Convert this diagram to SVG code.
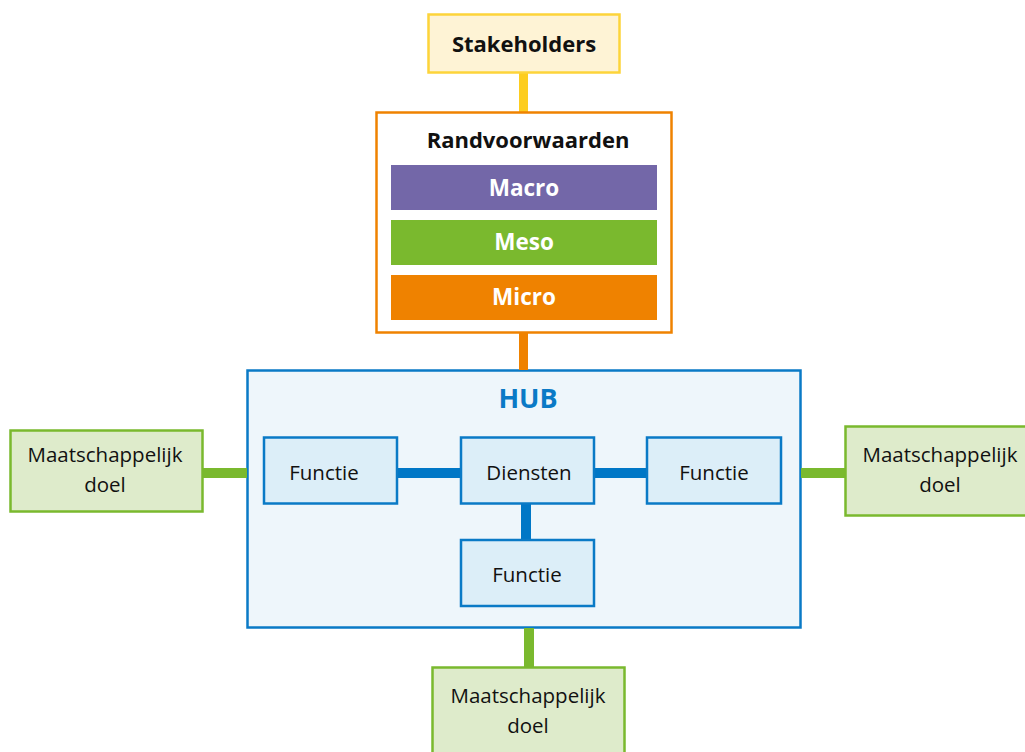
<svg xmlns="http://www.w3.org/2000/svg" width="1025" height="752" viewBox="0 0 1025 752">
<style>
text{font-family:"Open Sans","Noto Sans","Liberation Sans",sans-serif;text-anchor:middle;fill:#111}
.b{font-weight:bold}
.w{fill:#fff;font-weight:bold;font-size:22.5px}
.goal{fill:#deebcb;stroke:#7ab92e;stroke-width:2.5}
.fn{fill:#dceef8;stroke:#0a7ac6;stroke-width:2.5}
.t{font-size:20.5px}
</style>
<rect width="1025" height="752" fill="#fff"/>
<g id="hub">
<rect x="247.5" y="370.5" width="553" height="257" fill="#eef6fb" stroke="#0a7ac6" stroke-width="2.5"/>
<text x="528" y="408" class="b" font-size="27" style="fill:#0a7ac6">HUB</text>
</g>
<g id="connectors">
<rect x="519" y="73" width="9" height="39" fill="#fdcd1f"/>
<rect x="519" y="333" width="9" height="37" fill="#ef8200"/>
<rect x="203" y="468" width="44" height="10" fill="#7ab92e"/>
<rect x="801" y="468" width="44" height="10" fill="#7ab92e"/>
<rect x="524" y="628" width="10" height="39" fill="#7ab92e"/>
<rect x="397" y="468" width="64" height="10" fill="#0077c6"/>
<rect x="594" y="468" width="53" height="10" fill="#0077c6"/>
<rect x="521" y="504" width="10" height="35" fill="#0077c6"/>
</g>
<g id="stakeholders">
<rect x="428.5" y="14.5" width="191" height="58" fill="#fef3d5" stroke="#fdd43a" stroke-width="2.5"/>
<text x="524" y="52" class="b" font-size="22">Stakeholders</text>
</g>
<g id="randvoorwaarden">
<rect x="376.5" y="112.5" width="295" height="220" fill="#fff" stroke="#ef8200" stroke-width="2.5"/>
<text x="528" y="148" class="b" font-size="22">Randvoorwaarden</text>
</g>
<g id="macro"><rect x="391" y="165" width="266" height="45" fill="#7367a8"/><text x="524" y="196" class="w">Macro</text></g>
<g id="meso"><rect x="391" y="220" width="266" height="45" fill="#7ab92e"/><text x="524" y="250" class="w">Meso</text></g>
<g id="micro"><rect x="391" y="275" width="266" height="45" fill="#ef8200"/><text x="524" y="305" class="w">Micro</text></g>
<g id="functie-left"><rect x="264" y="437.5" width="133" height="66" class="fn"/><text x="324" y="480" class="t">Functie</text></g>
<g id="diensten"><rect x="461" y="437.5" width="133" height="66" class="fn"/><text x="529" y="480" class="t">Diensten</text></g>
<g id="functie-right"><rect x="647" y="437.5" width="134" height="66" class="fn"/><text x="714" y="480" class="t">Functie</text></g>
<g id="functie-bottom"><rect x="461" y="540" width="133" height="66" class="fn"/><text x="527" y="582" class="t">Functie</text></g>
<g id="doel-left"><rect x="10.5" y="430.5" width="192" height="81" class="goal"/><text x="105" y="462" class="t">Maatschappelijk</text><text x="105" y="492" class="t">doel</text></g>
<g id="doel-right"><rect x="845.5" y="426.5" width="192" height="89" class="goal"/><text x="940" y="462" class="t">Maatschappelijk</text><text x="940" y="492" class="t">doel</text></g>
<g id="doel-bottom"><rect x="432.5" y="667.5" width="192" height="95" class="goal"/><text x="528" y="703" class="t">Maatschappelijk</text><text x="528" y="733" class="t">doel</text></g>
</svg>
